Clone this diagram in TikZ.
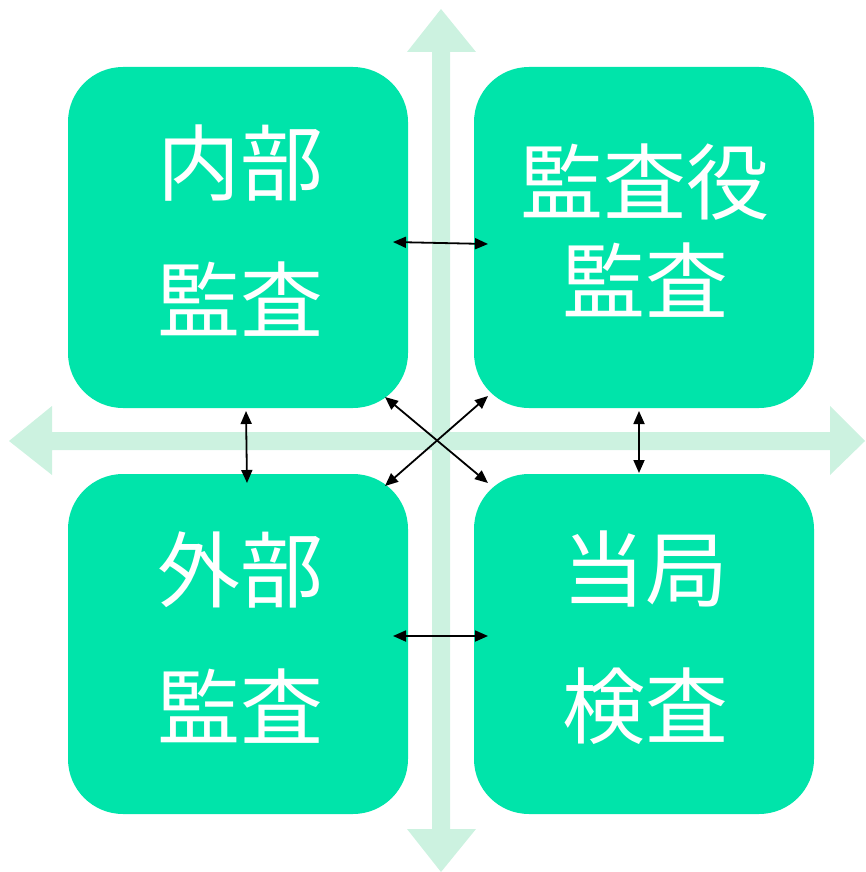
\documentclass[tikz,border=0pt]{standalone}
\usepackage{fontspec}
\newfontfamily\cjk{Noto Sans CJK JP}
\usetikzlibrary{arrows.meta}
\definecolor{boxgreen}{RGB}{0,228,170}
\definecolor{mint}{RGB}{204,242,224}
\begin{document}
\begin{tikzpicture}[x=1pt,y=-1pt,
  box/.style={fill=boxgreen,draw=none,rounded corners=55pt},
  lbl/.style={text=white,align=center,inner sep=0pt},
  link/.style={black,line width=1.8pt,{Triangle[length=13pt,width=11pt]}-{Triangle[length=13pt,width=11pt]},shorten <=0pt,shorten >=0pt}]
\useasboundingbox (0,0) rectangle (865,872);
% big cross arrows
\fill[mint] (441,9) -- (476,52) -- (450,52) -- (450,829) -- (476,829) -- (441,872)
  -- (407,829) -- (432,829) -- (432,52) -- (407,52) -- cycle;
\fill[mint] (9,441) -- (52,406) -- (52,432) -- (830,432) -- (830,406) -- (865,441)
  -- (830,475) -- (830,450) -- (52,450) -- (52,475) -- cycle;
% boxes
\fill[box] (68,67) rectangle (408,408);
\fill[box] (474,67) rectangle (814,408);
\fill[box] (68,474) rectangle (408,814);
\fill[box] (474,474) rectangle (814,814);
% labels
\node[lbl,font={\cjk\fontsize{83}{137}\selectfont}] (tl) at (240,231) {内部\\監査};
\node[lbl,font={\cjk\fontsize{83}{99}\selectfont}] (tr) at (645,231) {監査役\\監査};
\node[lbl,font={\cjk\fontsize{83}{137}\selectfont}] (bl) at (240,638) {外部\\監査};
\node[lbl,font={\cjk\fontsize{83}{137}\selectfont}] (br) at (645,638) {当局\\検査};
% connector end points
\coordinate (a1) at (393,242); \coordinate (a2) at (488,244);
\coordinate (b1) at (393,636); \coordinate (b2) at (488,636);
\coordinate (c1) at (246,411); \coordinate (c2) at (247,483);
\coordinate (d1) at (639,411); \coordinate (d2) at (639,473);
\coordinate (e1) at (385,397); \coordinate (e2) at (488,483);
\coordinate (f1) at (488,396); \coordinate (f2) at (385,486);
\draw[link] (a1) -- (a2);
\draw[link] (b1) -- (b2);
\draw[link] (c1) -- (c2);
\draw[link] (d1) -- (d2);
\draw[link] (e1) -- (e2);
\draw[link] (f1) -- (f2);
\end{tikzpicture}
\end{document}
